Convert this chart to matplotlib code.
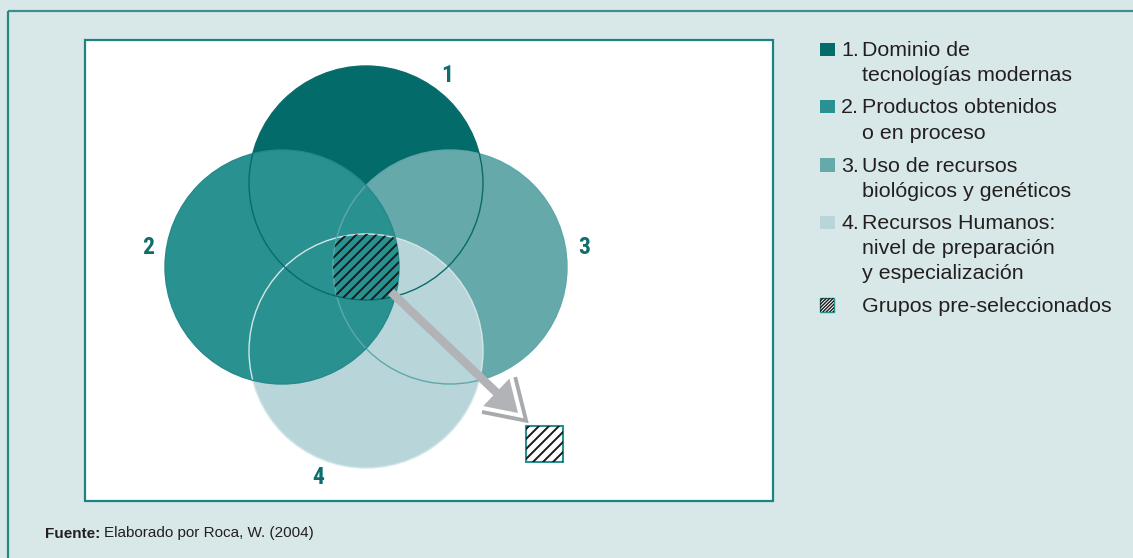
import numpy as np
import matplotlib
matplotlib.use("Agg")
import matplotlib.pyplot as plt
from matplotlib import font_manager
from matplotlib.font_manager import FontProperties
from matplotlib.patches import Circle, Rectangle, Polygon, FancyArrow
from matplotlib.collections import LineCollection

# ---------------- data ----------------
set_labels = ["1", "2", "3", "4"]
set_colors = ["#046b6b", "#2a9191", "#65a9ab", "#b8d6d9"]
legend_numbers = ["1.", "2.", "3.", "4."]
legend_texts = [
    ["Dominio de", "tecnologías modernas"],
    ["Productos obtenidos", "o en proceso"],
    ["Uso de recursos", "biológicos y genéticos"],
    ["Recursos Humanos:", "nivel de preparación", "y especialización"],
]
hatch_label = "Grupos pre-seleccionados"
source_bold = "Fuente:"
source_text = "Elaborado por Roca, W. (2004)"

# ---------------- layout (pixel space) ----------------
W, H = 1133, 558
centers = [(366, 183), (282, 267), (450, 267), (366, 351)]
radius = 117
draw_order = [0, 2, 3, 1]
outline_colors = ["#0b6a6a", "#26898b", "#5ea8aa", "#d3e6e8"]

names = {f.name for f in font_manager.fontManager.ttflist}
regular = "Liberation Sans" if "Liberation Sans" in names else "DejaVu Sans"


def weight_of(f):
    if isinstance(f.weight, int):
        return f.weight
    return 700 if "bold" in str(f.weight).lower() else 400


def find_condensed_bold():
    prefs = ["Liberation Sans Narrow", "Roboto Condensed", "Noto Sans Condensed",
             "Open Sans Condensed", "DejaVu Sans Condensed", "Noto Sans",
             "DejaVu Sans", "Roboto", "Open Sans"]
    cands = []
    for f in font_manager.fontManager.ttflist:
        st = str(f.stretch).lower()
        is_cond = ("condensed" in st or "narrow" in f.name.lower()
                   or "condensed" in f.name.lower()
                   or "condensed" in f.fname.lower() or "narrow" in f.fname.lower())
        if not is_cond or "extra" in st or "ultra" in st or "semi" in st:
            continue
        if "italic" in f.fname.lower() or f.style != "normal":
            continue
        w = weight_of(f)
        if w < 600 or w > 800:
            continue
        rank = next((i for i, p in enumerate(prefs) if f.name == p), len(prefs))
        cands.append((rank, f.fname))
    if cands:
        cands.sort()
        return FontProperties(fname=cands[0][1])
    return None


def find_bold(name):
    for f in font_manager.fontManager.ttflist:
        if (f.name == name and f.style == "normal" and weight_of(f) == 700
                and "condensed" not in str(f.stretch).lower()
                and "italic" not in f.fname.lower()):
            return FontProperties(fname=f.fname)
    return FontProperties(family=regular, weight="bold")


cond_bold = find_condensed_bold()
reg_bold = find_bold(regular)

fig = plt.figure(figsize=(W / 100, H / 100), dpi=100)
fig.patch.set_facecolor("#d8e8e8")
ax = fig.add_axes([0, 0, 1, 1])
ax.set_xlim(0, W)
ax.set_ylim(H, 0)
ax.axis("off")

# outer frame lines (top and left)
ax.plot([8, W], [11, 11], color="#3b8f8f", lw=1.6, solid_capstyle="butt")
ax.plot([8, 8], [11, H], color="#2a8585", lw=1.6, solid_capstyle="butt")

# inner white panel
ax.add_patch(Rectangle((85, 40), 773 - 85, 501 - 40, facecolor="white",
                       edgecolor="#1f8282", lw=1.6, zorder=1))

# circles
for i in draw_order:
    ax.add_patch(Circle(centers[i], radius, facecolor=set_colors[i],
                        edgecolor="none", zorder=2))
for i in [3, 2, 1, 0]:
    ax.add_patch(Circle(centers[i], radius, facecolor="none",
                        edgecolor=outline_colors[i], lw=1.0, zorder=3))

# intersection of all four circles
pts = []
th = np.linspace(0, 2 * np.pi, 1440, endpoint=False)
for i, (cx, cy) in enumerate(centers):
    bx = cx + radius * np.cos(th)
    by = cy + radius * np.sin(th)
    ok = np.ones_like(bx, dtype=bool)
    for j, (ox, oy) in enumerate(centers):
        if j != i:
            ok &= (bx - ox) ** 2 + (by - oy) ** 2 <= radius ** 2 + 1e-6
    pts.extend(zip(bx[ok], by[ok]))
pts = np.array(pts)
m = pts.mean(axis=0)
pts = pts[np.argsort(np.arctan2(pts[:, 1] - m[1], pts[:, 0] - m[0]))]
inter = Polygon(pts, closed=True, facecolor="none", edgecolor="none", zorder=4)
ax.add_patch(inter)


def hatch_lines(patch, x0, x1, y0, y1, step, lw, z):
    segs = []
    for c in np.arange(x0 + y0 - (x1 - x0), x1 + y1 + step, step):
        segs.append([(x0 - 50, c - (x0 - 50)), (x1 + 50, c - (x1 + 50))])
    lc = LineCollection(segs, colors="#1a1a1a", linewidths=lw, zorder=z)
    ax.add_collection(lc)
    lc.set_clip_path(patch)


hatch_lines(inter, pts[:, 0].min(), pts[:, 0].max(), pts[:, 1].min(),
            pts[:, 1].max(), 10, 1.4, 5)

# arrow
start = np.array([391.0, 292.0])
tip = np.array([518.0, 413.0])
d = tip - start
u = d / np.hypot(*d)
hw, hl = 38.0, 30.0
arrow = FancyArrow(start[0], start[1], d[0], d[1], width=8.5, head_width=hw,
                   head_length=hl, length_includes_head=True,
                   facecolor="#b2b3b7", edgecolor="none", zorder=6)
ax.add_patch(arrow)
nrm = np.array([-u[1], u[0]])
base = tip - u * hl
cA = base + nrm * hw / 2
cB = base - nrm * hw / 2
gap = 6.0
half = np.arctan2(hw / 2, hl)
tipo = tip + u * gap / np.sin(half)
sA = (tip - cA) / np.hypot(*(tip - cA))
nA = np.array([sA[1], -sA[0]])
if np.dot(nA, tipo - tip) < 0:
    nA = -nA
sB = (tip - cB) / np.hypot(*(tip - cB))
nB = np.array([sB[1], -sB[0]])
if np.dot(nB, tipo - tip) < 0:
    nB = -nB
chev = np.array([cA + nA * gap, tipo, cB + nB * gap])
ax.plot(chev[:, 0], chev[:, 1], color="#a9aaae", lw=2.8, zorder=6,
        solid_joinstyle="miter", solid_capstyle="butt")

# selected-group square
sq = Rectangle((526, 426), 37, 36, facecolor="white", edgecolor="#2a9191",
               lw=1.5, zorder=6)
ax.add_patch(sq)
hatch_lines(sq, 526, 563, 426, 462, 10, 1.4, 7)

# set labels
label_pos = [(447, 75), (148, 247), (584, 247), (318, 478)]
for lab, (x, y) in zip(set_labels, label_pos):
    if cond_bold is not None:
        fp = cond_bold.copy()
        fp.set_size(17)
        ax.text(x, y, lab, ha="center", va="center", fontproperties=fp,
                color="#0e6d6d", zorder=8)
    else:
        ax.text(x, y, lab, ha="center", va="center", fontsize=16.5,
                fontweight="bold", color="#0e6d6d", family=regular, zorder=8)

# legend
baselines = [[56, 80.7], [113.3, 139], [171.7, 196.7], [229.3, 254, 279.3]]
txt_color = "#231f20"
fs = 15.4
for k in range(4):
    b = baselines[k]
    ax.add_patch(Rectangle((820, b[0] - 13.5), 14.5, 13.5,
                           facecolor=set_colors[k], edgecolor="none"))
    ax.text(841, b[0], legend_numbers[k], ha="left", va="baseline",
            fontsize=fs, color=txt_color, family=regular)
    for line, yb in zip(legend_texts[k], b):
        ax.text(862, yb, line, ha="left", va="baseline", fontsize=fs,
                color=txt_color, family=regular)
hb = 311.7
hsq = Rectangle((820, hb - 13.5), 14, 13.5, facecolor="white",
                edgecolor="#2a9191", lw=1.0, zorder=3)
ax.add_patch(hsq)
hatch_lines(hsq, 820, 834, hb - 13.5, hb, 3.4, 1.0, 4)
ax.text(862, hb, hatch_label, ha="left", va="baseline", fontsize=fs,
        color=txt_color, family=regular)

# source
fpb = reg_bold.copy()
fpb.set_size(11)
t = ax.text(45, 537.5, source_bold + " ", ha="left", va="baseline",
            fontproperties=fpb, color=txt_color)
fig.canvas.draw()
bb = t.get_window_extent()
ax.text(45 + bb.width, 537.5, source_text, ha="left", va="baseline",
        fontsize=11, color=txt_color, family=regular)

fig.savefig("out.png", dpi=100, facecolor=fig.get_facecolor())
